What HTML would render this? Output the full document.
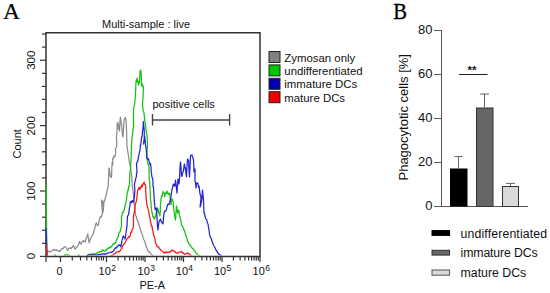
<!DOCTYPE html>
<html><head><meta charset="utf-8"><style>
html,body{margin:0;padding:0;background:#fff;width:550px;height:293px;overflow:hidden}
svg{display:block}
text{font-family:"Liberation Sans",sans-serif}
.serif{font-family:"Liberation Serif",serif}
</style></head><body>
<svg width="550" height="293" viewBox="0 0 550 293">
<rect width="550" height="293" fill="#fff"/>
<text class="serif" transform="translate(3,18.8) scale(0.98,1.0)" font-size="24" fill="#000" stroke="#000" stroke-width="0.25">A</text>
<text x="146" y="27.5" font-size="11" fill="#111" text-anchor="middle">Multi-sample : live</text>
<g stroke="#333" stroke-width="1.2" fill="none">
<polyline points="46,256.4 46,32.75 260,32.75 260,256.4 46,256.4" stroke="#333" stroke-width="1.5"/>
<line x1="46" y1="256.5" x2="46" y2="262"/>
<line x1="60.5" y1="256.5" x2="60.5" y2="262"/>
<line x1="106.5" y1="256.5" x2="106.5" y2="262"/>
<line x1="145" y1="256.5" x2="145" y2="262"/>
<line x1="183.5" y1="256.5" x2="183.5" y2="262"/>
<line x1="222" y1="256.5" x2="222" y2="262"/>
<line x1="260" y1="256.5" x2="260" y2="262"/>
<line x1="72.3" y1="256.5" x2="72.3" y2="260.5"/>
<line x1="80.5" y1="256.5" x2="80.5" y2="260.5"/>
<line x1="86.8" y1="256.5" x2="86.8" y2="260.5"/>
<line x1="91.5" y1="256.5" x2="91.5" y2="260.5"/>
<line x1="96.5" y1="256.5" x2="96.5" y2="260.5"/>
<line x1="99.0" y1="256.5" x2="99.0" y2="260.5"/>
<line x1="101.5" y1="256.5" x2="101.5" y2="260.5"/>
<line x1="103.5" y1="256.5" x2="103.5" y2="260.5"/>
<line x1="118.1" y1="256.5" x2="118.1" y2="260.5"/>
<line x1="124.9" y1="256.5" x2="124.9" y2="260.5"/>
<line x1="129.7" y1="256.5" x2="129.7" y2="260.5"/>
<line x1="133.4" y1="256.5" x2="133.4" y2="260.5"/>
<line x1="136.5" y1="256.5" x2="136.5" y2="260.5"/>
<line x1="139.0" y1="256.5" x2="139.0" y2="260.5"/>
<line x1="141.3" y1="256.5" x2="141.3" y2="260.5"/>
<line x1="143.2" y1="256.5" x2="143.2" y2="260.5"/>
<line x1="156.6" y1="256.5" x2="156.6" y2="260.5"/>
<line x1="163.4" y1="256.5" x2="163.4" y2="260.5"/>
<line x1="168.2" y1="256.5" x2="168.2" y2="260.5"/>
<line x1="171.9" y1="256.5" x2="171.9" y2="260.5"/>
<line x1="175.0" y1="256.5" x2="175.0" y2="260.5"/>
<line x1="177.5" y1="256.5" x2="177.5" y2="260.5"/>
<line x1="179.8" y1="256.5" x2="179.8" y2="260.5"/>
<line x1="181.7" y1="256.5" x2="181.7" y2="260.5"/>
<line x1="195.1" y1="256.5" x2="195.1" y2="260.5"/>
<line x1="201.9" y1="256.5" x2="201.9" y2="260.5"/>
<line x1="206.7" y1="256.5" x2="206.7" y2="260.5"/>
<line x1="210.4" y1="256.5" x2="210.4" y2="260.5"/>
<line x1="213.5" y1="256.5" x2="213.5" y2="260.5"/>
<line x1="216.0" y1="256.5" x2="216.0" y2="260.5"/>
<line x1="218.3" y1="256.5" x2="218.3" y2="260.5"/>
<line x1="220.2" y1="256.5" x2="220.2" y2="260.5"/>
<line x1="233.4" y1="256.5" x2="233.4" y2="260.5"/>
<line x1="240.1" y1="256.5" x2="240.1" y2="260.5"/>
<line x1="244.9" y1="256.5" x2="244.9" y2="260.5"/>
<line x1="248.6" y1="256.5" x2="248.6" y2="260.5"/>
<line x1="251.6" y1="256.5" x2="251.6" y2="260.5"/>
<line x1="254.1" y1="256.5" x2="254.1" y2="260.5"/>
<line x1="256.3" y1="256.5" x2="256.3" y2="260.5"/>
<line x1="258.3" y1="256.5" x2="258.3" y2="260.5"/>
<line x1="40" y1="256.4" x2="46" y2="256.4"/>
<line x1="42" y1="243.3" x2="46" y2="243.3"/>
<line x1="42" y1="230.2" x2="46" y2="230.2"/>
<line x1="42" y1="217.2" x2="46" y2="217.2"/>
<line x1="42" y1="204.1" x2="46" y2="204.1"/>
<line x1="40" y1="191.0" x2="46" y2="191.0"/>
<line x1="42" y1="177.9" x2="46" y2="177.9"/>
<line x1="42" y1="164.8" x2="46" y2="164.8"/>
<line x1="42" y1="151.8" x2="46" y2="151.8"/>
<line x1="42" y1="138.7" x2="46" y2="138.7"/>
<line x1="40" y1="125.6" x2="46" y2="125.6"/>
<line x1="42" y1="112.5" x2="46" y2="112.5"/>
<line x1="42" y1="99.4" x2="46" y2="99.4"/>
<line x1="42" y1="86.4" x2="46" y2="86.4"/>
<line x1="42" y1="73.3" x2="46" y2="73.3"/>
<line x1="40" y1="60.2" x2="46" y2="60.2"/>
<line x1="42" y1="47.1" x2="46" y2="47.1"/>
<line x1="42" y1="34.0" x2="46" y2="34.0"/>
</g>
<defs><clipPath id="pc"><rect x="45" y="32" width="216" height="223.5"/></clipPath></defs>
<g fill="none" stroke-width="1.25" stroke-linejoin="round" clip-path="url(#pc)">
<polyline points="47,253 47.5,251.65 48,251 48.5,251.62 49,251.77 49.5,251.51 50,252 50.6,251.6 51.2,251.15 51.8,250.97 52.4,250.73 53,250 53.6,249.52 54.2,249.44 54.8,250.4 55.4,249.92 56,250 56.5,250.55 57,249.93 57.5,250.69 58,251 58.5,251.24 59,250.71 59.5,251.48 60,251 60.5,250.96 61,249.44 61.5,248.91 62,249 62.6,248.57 63.2,248.64 63.8,247.39 64.4,246.67 65,246.6 65.52,247.25 66.04,247.48 66.56,248.52 67.08,249.56 67.6,250.4 68.07,249.79 68.55,248.86 69.03,248.25 69.5,248 69.97,247.74 70.45,248.2 70.93,248.09 71.4,248.5 71.88,247.03 72.35,247.39 72.83,246.19 73.3,245.3 73.78,246.44 74.25,246.7 74.72,248.75 75.2,249 75.7,248.88 76.2,247.27 76.7,246.96 77.2,246.93 77.7,246 78.17,245.22 78.65,244.49 79.12,242.49 79.6,241.5 80.2,243.33 80.8,244 81.32,243.55 81.84,242.17 82.36,241.94 82.88,241.76 83.4,240.3 83.88,241.38 84.35,241.16 84.83,241.74 85.3,242 85.8,239.51 86.3,238.28 86.8,237.83 87.3,235.41 87.8,234 88.4,237.73 89,242.8 89.43,241.62 89.87,240.66 90.3,239 90.8,238.48 91.3,236.98 91.8,236.23 92.3,235.5 92.8,234.6 93.28,233.82 93.75,231.8 94.22,230.06 94.7,228.9 95.13,227.17 95.57,224.24 96,223.8 96.5,222.79 97,224.84 97.5,225.83 98,225.01 98.5,225 99.1,220 99.57,218.76 100.05,217.17 100.53,217.23 101,216.3 101.35,217.13 101.7,215 102.1,214.36 102.5,212 101.95,206.14 101.4,200 101.93,202.3 102.47,201.05 103,203 103.2,212 103.6,206.55 104,201 104.57,201.31 105.13,198.62 105.7,197 106.27,194.51 106.83,191.44 107.4,190 107.8,187.69 108.2,185 108.55,178.48 108.9,168 109.45,169.3 110,175 110.53,176.73 111.07,177.39 111.6,176.5 111.8,167 112.3,162 112.8,165 112.8,158 113.3,158.86 113.8,156 114.3,156.83 114.8,156.84 115.3,155 115.8,151 115.3,149 115.8,148.09 116.3,147 116.8,145 116.5,138 117.1,129 117.1,123.7 117.45,123.39 117.8,122.4 118.4,129 118.75,126.59 119.1,125 119.5,131 119.95,121.63 120.4,117.2 121,121 121.35,125.07 121.7,125 122.3,134 122.65,135.87 123,137 123.6,127.6 123.95,122.03 124.3,119.8 124.8,118.53 125.3,117.2 125.75,119.01 126.2,121 126.6,131.5 126.9,146 127.45,148.78 128,153 128.5,155.76 129,160 129.5,162.68 130,165 130.6,169.06 131.2,172 131.8,177 132.1,184 132.5,188 133.1,191 133.5,196 134,202 134.5,206.39 135,210 135.4,212.87 135.8,216 136.4,216.59 137,220 137.5,220.22 138,222 138.5,222.61 139,225.23 139.5,227.45 140,228 140.5,230.24 141,231.72 141.5,233.24 142,234 142.5,234.96 143,237.72 143.5,238.85 144,240 144.5,240.73 145,242.16 145.5,243.7 146,246 146.5,247.62 147,248.17 147.5,249.28 148,251 148.5,251.63 149,251.85 149.5,252.11 150,253 150.5,253.24 151,254.02 151.5,254.3 152,255 152.5,255.15 153,255.57 153.5,255.74 154,257.2" stroke="#8c8c8c"/>
<polyline points="46,183.5 46.5,221.08 47,257.2 47.58,257.2 48.17,257.2 48.75,257.2 49.33,257.2 49.92,257.2 50.5,257.2 51.08,257.2 51.67,257.2 52.25,257.2 52.83,257.2 53.42,257.2 54,257.2 54.5,255.48 55,255 55.5,255.46 56,257.2 56.57,257.2 57.14,257.2 57.71,257.2 58.29,257.2 58.86,257.2 59.43,257.2 60,257.2 60.57,257.2 61.14,257.2 61.71,257.2 62.29,257.2 62.86,257.2 63.43,257.2 64,257.2 64.5,255.52 65,255 65.57,254.87 66.14,254.77 66.71,254.92 67.29,254.82 67.86,255 68.43,255.24 69,255 69.5,255.56 70,257.2 70.57,257.2 71.14,257.2 71.71,257.2 72.29,257.2 72.86,257.2 73.43,257.2 74,257.2 74.57,257.2 75.14,257.2 75.71,257.2 76.29,257.2 76.86,257.2 77.43,257.2 78,257.2 78.5,255.49 79,255 79.5,255.51 80,257.2 80.6,257.2 81.2,257.2 81.8,257.2 82.4,257.2 83,257.2 83.6,257.2 84.2,257.2 84.8,257.2 85.4,257.2 86,257.2 86.6,255.81 87.2,255.48 87.8,255.09 88.4,254.65 89,254.5 89.6,254.29 90.2,254.43 90.8,253.98 91.4,254.37 92,254 92.6,253.84 93.2,254.28 93.8,253.87 94.4,254.31 95,254 95.6,253.85 96.2,253.4 96.8,253.11 97.4,252.93 98,252.5 98.6,252.38 99.2,251.92 99.8,251.61 100.4,251.71 101,251.5 101.5,251.59 102,250.89 102.5,249.89 103,250 103.5,250.62 104,250.76 104.5,251.2 105,251 105.6,250.15 106.2,250.29 106.8,248.95 107.4,249.2 108,248.5 108.6,247.89 109.2,247.52 109.8,248.13 110.4,246.74 111,247 111.5,246.41 112,246.3 112.5,244.72 113,244.5 113.6,243.51 114.2,244.15 114.8,242.87 115.4,242.89 116,242 116.5,239.86 117,239.23 117.5,237.58 118,237 118.5,235.71 119,232.71 119.5,232 120,232.1 120.5,230 121,227.29 121.5,227 121.5,216 121.97,215.71 122.43,212.5 122.9,213 123.5,210.54 124.1,210.7 124.7,208 125.17,204.82 125.63,202.89 126.1,202 126.55,199.01 127,194.6 127.47,192.63 127.93,189.75 128.4,190 128.6,186.3 129.05,186.66 129.5,183 129.9,172 130.5,169 131,160 131.5,145 132,138.18 132.5,135 133,128.99 133.5,128 133.5,110 134,106.58 134.5,105 135,100.2 135.5,94 136,81 136.5,82.39 137,78.18 137.5,80.5 138,81.71 138.5,85 139,81.02 139.5,83 139.9,74 140.4,70 140.8,71.16 141.2,73 141.5,85 142,86.19 142.5,84 143,87.02 143.5,87 143.3,92 143,98 142.5,104 143,109.38 143.5,111.5 144,113 144.5,118 145,123.04 145.5,124 146,130 146.5,133.61 147,135 147.5,143 147.5,146 147,151.87 146.5,158 147,158.7 147.5,162 148,164.42 148.5,164.49 149,167 149,172 149.3,180 149.65,182.36 150,188 150.5,199 150.95,203.32 151.4,208 151.9,212.22 152.4,214 153,217 153.5,216.55 154,218.59 154.5,219 155,217.35 155.5,216.38 156,215 156.5,211.53 157,211.84 157.5,208 158,208.87 158.5,211.68 159,213 159.5,214.25 160,216 160.5,205 161,199 161.5,195.81 162,196.42 162.5,193.44 163,191.7 163.5,192 164,192.73 164.5,197 165,194.53 165.5,193.06 166,193.92 166.5,192.23 167,191 167.5,193.38 168,193.68 168.5,194.41 169,193 169.5,193.48 170,196 170.5,200.3 171,205 171.5,199 172,198.76 172.5,200.66 173,201 173.5,206.09 174,211.32 174.5,215 175,218.13 175.5,220 176,212.23 176.5,206 177,209.25 177.5,213 178,211.58 178.5,210 179,211.43 179.5,216 180,216.61 180.5,219.73 181,220.9 181.5,224.61 182,226 182.5,226.32 183,226.97 183.5,228.2 184,230 184.5,230.86 185,232.34 185.5,234.55 186,236 186.5,237.43 187,238.62 187.5,240.77 188,242 188.5,242.24 189,244.2 189.5,245.02 190,245 190.5,246.11 191,246.4 191.5,247.27 192,248 192.5,248.61 193,248.42 193.5,249.4 194,250 194.5,250.78 195,251.17 195.5,251.87 196,253 196.5,253.73 197,253.91 197.5,254.51 198,255 198.5,255.43 199,255.54 199.5,255.7 200,257.2" stroke="#14c014"/>
<polyline points="46,228 46.5,241.52 47,257.2 47.6,257.2 48.19,257.2 48.79,257.2 49.39,257.2 49.99,257.2 50.58,257.2 51.18,257.2 51.78,257.2 52.37,257.2 52.97,257.2 53.57,257.2 54.16,257.2 54.76,257.2 55.36,257.2 55.96,257.2 56.55,257.2 57.15,257.2 57.75,257.2 58.34,257.2 58.94,257.2 59.54,257.2 60.13,257.2 60.73,257.2 61.33,257.2 61.93,257.2 62.52,257.2 63.12,257.2 63.72,257.2 64.31,257.2 64.91,257.2 65.51,257.2 66.1,257.2 66.7,257.2 67.3,257.2 67.9,257.2 68.49,257.2 69.09,257.2 69.69,257.2 70.28,257.2 70.88,257.2 71.48,257.2 72.07,257.2 72.67,257.2 73.27,257.2 73.87,257.2 74.46,257.2 75.06,257.2 75.66,257.2 76.25,257.2 76.85,257.2 77.45,257.2 78.04,257.2 78.64,257.2 79.24,257.2 79.84,257.2 80.43,257.2 81.03,257.2 81.63,257.2 82.22,257.2 82.82,257.2 83.42,257.2 84.01,257.2 84.61,257.2 85.21,257.2 85.81,257.2 86.4,257.2 87,257.2 87.5,255.67 88,255 88.57,254.8 89.14,255.15 89.71,254.96 90.29,254.83 90.86,254.9 91.43,255.13 92,255 92.57,255.18 93.14,254.78 93.71,255.06 94.29,254.78 94.86,255.11 95.43,254.92 96,255 96.57,255.12 97.14,255.11 97.71,254.79 98.29,254.99 98.86,254.54 99.43,254.33 100,254.5 100.56,254.5 101.11,254.1 101.67,254.14 102.22,254.22 102.78,254.29 103.33,253.94 103.89,253.81 104.44,254.3 105,254 105.56,253.7 106.11,254.01 106.67,253.8 107.22,253.24 107.78,253.13 108.33,253.02 108.89,252.96 109.44,252.75 110,252.5 110.6,252.36 111.2,252.22 111.8,252.33 112.4,251.71 113,251.5 113.5,250.67 114,250.26 114.5,248.92 115,248.5 115.6,247.73 116.2,248.18 116.8,247.03 117.4,246.57 118,246 118.5,244.99 119,245.37 119.5,245.38 120,245 120.5,245.26 121,247 121.5,243.7 122,240 122.5,238.93 123,236.41 123.5,236 124,237.27 124.5,237.93 125,239 125.5,236.39 126,233 126.5,229.13 127,226 127.5,216 127.97,215.64 128.43,214.75 128.9,213 129.35,208.23 129.8,206.6 130.25,202.51 130.7,201.5 131.17,201.96 131.63,202.83 132.1,201 132.57,200.44 133.03,201.51 133.5,202 133.95,199.84 134.4,197 134.9,190 134.4,185 134.9,181.75 135.4,180 135.85,177.92 136.3,177 136.65,173.68 137,172 136.5,164 137,162.05 137.5,161.78 138,160 138.5,156.54 139,155 139.5,151.89 140,150 140.4,145 140.75,145.05 141.1,142.3 141.6,137.18 142.1,137 142.4,132 143,128 143.4,121.5 143.8,126.13 144.2,130 144.3,138 143.95,142.22 143.6,144 144.1,139.01 144.6,136 145.2,141 145.6,146 145.95,146.6 146.3,150 146.7,154 147.1,157.97 147.5,159 148,158.51 148.5,159.02 149,160.94 149.5,162 150,164.59 150.5,163.5 151,167 151.2,172 151.55,173.72 151.9,177 152.4,177.79 152.9,180 153,186 153.5,188 154,196 154.5,203 155,209 155.5,209.78 156,208.13 156.5,208 157,218.08 157.5,226 158,230 158.5,225.12 159,222 159.5,220.53 160,220.44 160.5,219 161,221.45 161.5,221.53 162,223 162.5,222.74 163,224 163.5,217.37 164,213 164.5,212.43 165,210.67 165.5,211 166,210.68 166.5,209.47 167,207 167.5,204.92 168,204.23 168.5,204 169,204.58 169.5,203 170,201.18 170.5,199.46 171,196 171.5,192.74 172,189.22 172.5,188 173,185.16 173.5,184 174,185.87 174.5,184.4 175,186 175.5,180 176,183.7 176.5,188.34 177,193 177.5,185.67 178,179 178.5,181.12 179,184 179.5,178.48 180,167.78 180.5,162 181,166.76 181.5,176 182,176.44 182.5,173 183,172.45 183.5,170.71 184,165.95 184.5,164 185,168.07 185.5,168 186,174.15 186.5,176.5 187,166.48 187.5,159 188,160.67 188.5,160 189,170.03 189.5,177 190,167.25 190.5,156 191,155.59 191.5,155 192,154.98 192.5,157 193,157.74 193.5,160 194,172 194.5,169.28 195,169 195,181 195.5,182.73 196,188 196.5,183 197,183.7 197.5,182.79 198,184 198.5,187.26 199,186.18 199.5,190 200,194.06 200.5,195 201,198 200.5,203.19 200,207 200.5,206.22 201,203.91 201.5,201.7 202,198 202.5,190 203,195.29 203.5,200 204,213 204.5,212.98 205,216 205.5,218.24 206,219 206.5,219.3 207,220.93 207.5,223.21 208,224 208.5,227.07 209,229.79 209.5,234.02 210,236 210.5,237.49 211,238.18 211.5,239.27 212,241 212.5,242.9 213,243.46 213.5,245.21 214,246 214.5,246.78 215,247.58 215.5,249.04 216,250 216.5,251.1 217,251.16 217.5,252.52 218,253 218.5,253.82 219,254.21 219.5,254.69 220,255 220.5,255.04 221,255.54 221.5,255.84 222,257.2" stroke="#2424d4"/>
<polyline points="46,244 46.5,249.69 47,257.2 47.6,257.2 48.2,257.2 48.8,257.2 49.4,257.2 50,257.2 50.6,257.2 51.2,257.2 51.8,257.2 52.4,257.2 53,257.2 53.6,257.2 54.2,257.2 54.8,257.2 55.4,257.2 56,257.2 56.6,257.2 57.2,257.2 57.8,257.2 58.4,257.2 59,257.2 59.6,257.2 60.2,257.2 60.8,257.2 61.4,257.2 62,257.2 62.6,257.2 63.2,257.2 63.8,257.2 64.4,257.2 65,257.2 65.6,257.2 66.2,257.2 66.8,257.2 67.4,257.2 68,257.2 68.6,257.2 69.2,257.2 69.8,257.2 70.4,257.2 71,257.2 71.6,257.2 72.2,257.2 72.8,257.2 73.4,257.2 74,257.2 74.6,257.2 75.2,257.2 75.8,257.2 76.4,257.2 77,257.2 77.6,257.2 78.2,257.2 78.8,257.2 79.4,257.2 80,257.2 80.6,257.2 81.2,257.2 81.8,257.2 82.4,257.2 83,257.2 83.6,257.2 84.2,257.2 84.8,257.2 85.4,257.2 86,257.2 86.6,257.2 87.2,257.2 87.8,257.2 88.4,257.2 89,257.2 89.6,257.2 90.2,257.2 90.8,257.2 91.4,257.2 92,257.2 92.6,257.2 93.2,257.2 93.8,257.2 94.4,257.2 95,257.2 95.6,257.2 96.2,257.2 96.8,257.2 97.4,257.2 98,257.2 98.6,257.2 99.2,257.2 99.8,257.2 100.4,257.2 101,257.2 101.6,257.2 102.2,257.2 102.8,257.2 103.4,257.2 104,257.2 104.6,257.2 105.2,257.2 105.8,257.2 106.4,257.2 107,257.2 107.6,257.2 108.2,257.2 108.8,257.2 109.4,257.2 110,257.2 110.6,255.7 111.2,255.46 111.8,255.28 112.4,255.28 113,255 113.57,254.37 114.14,253.84 114.71,253.71 115.29,253.09 115.86,253.28 116.43,252.08 117,252 117.6,251.83 118.2,251.88 118.8,251.31 119.4,251.72 120,251 120.5,250.22 121,249.18 121.5,248.63 122,248 122.5,246.33 123,245.88 123.5,244.6 124,244 124.5,243.92 125,243.09 125.5,241.75 126,241 126.5,239.35 127,239.02 127.5,238.23 128,238 128.5,236.89 129,236.43 129.5,237.29 130,236 130.5,233.69 131,231.96 131.5,232.53 132,230 132.5,228.83 133,228.61 133.5,226 133.5,216.7 133.95,214.05 134.4,212 134.85,209.35 135.3,204 135.77,202.88 136.23,201.72 136.7,199 137.15,195.68 137.6,190.5 138.03,190.14 138.47,188.23 138.9,189.5 139.47,187.52 140.03,189.33 140.6,187 141.05,187.62 141.5,185 142,187.03 142.5,185.6 143.03,183.73 143.57,183.85 144.1,182 144.6,184.39 145.1,184.3 145.7,186.3 145.7,191 146,196 146.4,200.42 146.8,203.8 147.28,206.68 147.75,207.49 148.22,209.71 148.7,211 149.15,214.44 149.6,216.7 150.07,218.11 150.53,222.11 151,223 151.5,226.23 152,225.89 152.5,230.19 153,231 153.5,234.4 154,236.03 154.5,238 155,239.12 155.5,242.72 156,244 156.5,244.14 157,246.24 157.5,246.5 158,247 158.5,246.88 159,247.54 159.5,248.68 160,249 160.5,249.59 161,250.29 161.5,250.99 162,251 162.5,251.21 163,251.52 163.5,252.88 164,253 164.6,252.38 165.2,252.94 165.8,252.05 166.4,252.49 167,252 167.6,252.27 168.2,252.37 168.8,252.05 169.4,252.37 170,252 170.5,251.19 171,251.19 171.5,250.31 172,250 172.5,250.71 173,250.81 173.5,250.72 174,251 174.5,251.53 175,251.54 175.5,252.08 176,253 176.5,253.08 177,252.99 177.5,253.31 178,253 178.5,252.84 179,252.17 179.5,252.12 180,252 180.5,252.26 181,252.02 181.5,251.53 182,252 182.5,252.81 183,253.28 183.5,253.18 184,254 184.5,254.03 185,253.92 185.5,254.2 186,254 186.5,253.61 187,253.3 187.5,253.24 188,253 188.5,253.86 189,253.72 189.5,254.27 190,255 190.5,255.3 191,255.63 191.5,255.75 192,257.2" stroke="#ff1414"/>
</g>
<g font-size="11.5" fill="#111" text-anchor="middle">
<text transform="translate(35.4,60.2) rotate(-90)">300</text>
<text transform="translate(35.4,125.8) rotate(-90)">200</text>
<text transform="translate(35.4,191.2) rotate(-90)">100</text>
<text transform="translate(35.4,256) rotate(-90)">0</text>
</g>
<text transform="translate(20.8,143.8) rotate(-90)" font-size="11" fill="#111" text-anchor="middle">Count</text>
<g font-size="11" fill="#111">
<text x="59.5" y="275.2" text-anchor="middle">0</text>
<text x="98.6" y="275">10<tspan font-size="8.5" dy="-4.4" dx="0.3">2</tspan></text>
<text x="137.6" y="275">10<tspan font-size="8.5" dy="-4.4" dx="0.3">3</tspan></text>
<text x="175.8" y="275">10<tspan font-size="8.5" dy="-4.4" dx="0.3">4</tspan></text>
<text x="214" y="275">10<tspan font-size="8.5" dy="-4.4" dx="0.3">5</tspan></text>
<text x="252.6" y="275">10<tspan font-size="8.5" dy="-4.4" dx="0.3">6</tspan></text>
</g>
<text x="139.5" y="288.5" font-size="11" fill="#111">PE-A</text>
<text x="152.5" y="107.6" font-size="11" fill="#111">positive cells</text>
<g stroke="#444" stroke-width="1.4">
<line x1="152.5" y1="120" x2="229.6" y2="120"/>
<line x1="152.5" y1="114" x2="152.5" y2="125.5"/>
<line x1="229.6" y1="114" x2="229.6" y2="125.5"/>
</g>
<g stroke="#222" stroke-width="1">
<rect x="269" y="51.5" width="11" height="11" fill="#808080"/>
<rect x="269" y="64.9" width="11" height="11" fill="#00c800"/>
<rect x="269" y="78.3" width="11" height="11" fill="#0000b0"/>
<rect x="269" y="91.7" width="11" height="11" fill="#f00000"/>
</g>
<g font-size="11.4" fill="#111">
<text x="284.3" y="62">Zymosan only</text>
<text x="284.3" y="75.4">undifferentiated</text>
<text x="284.3" y="88.4">immature DCs</text>
<text x="284.3" y="101.9">mature DCs</text>
</g>

<!-- Panel B -->
<text class="serif" transform="translate(393.2,18.5) scale(0.86,0.95)" font-size="24" fill="#000" stroke="#000" stroke-width="0.35">B</text>
<text transform="translate(408.2,117.3) rotate(-90)" font-size="13" fill="#111" text-anchor="middle">Phagocytotic cells [%]</text>
<g stroke="#555" stroke-width="1" fill="none">
<line x1="441.5" y1="30" x2="441.5" y2="206.5"/>
<line x1="434" y1="30.5" x2="441.5" y2="30.5"/>
<line x1="434" y1="74.5" x2="441.5" y2="74.5"/>
<line x1="434" y1="118.5" x2="441.5" y2="118.5"/>
<line x1="434" y1="162.5" x2="441.5" y2="162.5"/>
<line x1="434" y1="206.5" x2="528" y2="206.5"/>
</g>
<g font-size="13" fill="#111" text-anchor="end">
<text x="432.5" y="34.2">80</text>
<text x="432.5" y="78.2">60</text>
<text x="432.5" y="122.2">40</text>
<text x="432.5" y="166.2">20</text>
<text x="432.5" y="210.3">0</text>
</g>
<g stroke="#666" stroke-width="1">
<line x1="458.5" y1="156.5" x2="458.5" y2="168.5"/>
<line x1="454.5" y1="156.5" x2="462.5" y2="156.5"/>
<line x1="484.5" y1="94" x2="484.5" y2="107.5"/>
<line x1="480" y1="94" x2="489" y2="94"/>
<line x1="510.5" y1="183.4" x2="510.5" y2="186.4"/>
<line x1="506" y1="183.4" x2="515" y2="183.4"/>
</g>
<rect x="450" y="168.5" width="17.5" height="38" fill="#000"/>
<rect x="476.5" y="108" width="16.5" height="98.5" fill="#666" stroke="#333" stroke-width="1"/>
<rect x="502.5" y="186.5" width="16" height="20" fill="#d9d9d9" stroke="#333" stroke-width="1"/>
<line x1="459" y1="74.5" x2="487.5" y2="74.5" stroke="#222" stroke-width="1"/>
<text x="472" y="73.8" font-size="11.5" font-weight="bold" fill="#111" text-anchor="middle">**</text>
<rect x="432" y="230.6" width="17.6" height="4.8" fill="#000" stroke="#000" stroke-width="1"/>
<rect x="432" y="250.3" width="17.6" height="4.8" fill="#666" stroke="#333" stroke-width="1"/>
<rect x="432" y="270" width="17.6" height="5.2" fill="#d9d9d9" stroke="#555" stroke-width="1"/>
<g font-size="12.3" fill="#111">
<text x="460.6" y="237.6" textLength="86.5">undifferentiated</text>
<text x="460.6" y="256.9" textLength="77">immature DCs</text>
<text x="460.6" y="276.6" textLength="65.6">mature DCs</text>
</g>
</svg>
</body></html>
